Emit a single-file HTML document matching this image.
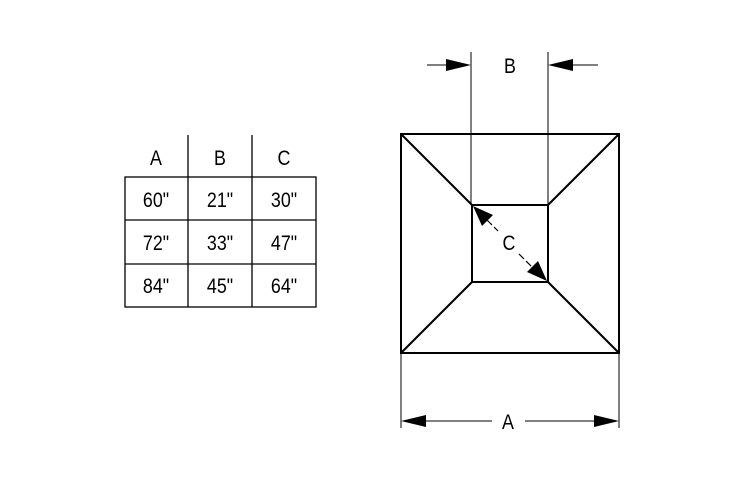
<!DOCTYPE html>
<html><head><style>body{margin:0;background:#fff}</style></head><body>
<svg width="753" height="490" viewBox="0 0 753 490" xmlns="http://www.w3.org/2000/svg" font-family="Liberation Sans, sans-serif" font-size="21" text-anchor="middle">
<g stroke="#000" fill="none">
<rect x="125" y="177" width="191" height="130" stroke-width="1.3"/>
<line x1="125" y1="220" x2="316" y2="220" stroke-width="1.3"/>
<line x1="125" y1="264" x2="316" y2="264" stroke-width="1.3"/>
<line x1="188" y1="135" x2="188" y2="307" stroke-width="1.3"/>
<line x1="252" y1="135" x2="252" y2="307" stroke-width="1.3"/>
<rect x="401" y="134" width="218" height="219" stroke-width="2"/>
<rect x="472" y="205" width="76" height="77" stroke-width="2"/>
<line x1="401" y1="134" x2="472" y2="205" stroke-width="2"/>
<line x1="619" y1="134" x2="548" y2="205" stroke-width="2"/>
<line x1="401" y1="353" x2="472" y2="282" stroke-width="2"/>
<line x1="619" y1="353" x2="548" y2="282" stroke-width="2"/>
<line x1="471" y1="52" x2="471" y2="205" stroke-width="1"/>
<line x1="548" y1="52" x2="548" y2="205" stroke-width="1"/>
<line x1="427" y1="65" x2="450" y2="65" stroke-width="1"/>
<line x1="570" y1="65" x2="598" y2="65" stroke-width="1"/>
<line x1="401" y1="353" x2="401" y2="428" stroke-width="1"/>
<line x1="619" y1="353" x2="619" y2="428" stroke-width="1"/>
<line x1="420" y1="421" x2="492" y2="421" stroke-width="1"/>
<line x1="525" y1="421" x2="600" y2="421" stroke-width="1"/>
<line x1="487" y1="220" x2="498" y2="231" stroke-width="1.2" stroke-dasharray="7,3"/>
<line x1="519" y1="254" x2="532" y2="267" stroke-width="1.2" stroke-dasharray="7,3"/>
</g>
<g fill="#000">
<polygon points="471,65 446,59 446,71"/>
<polygon points="548,65 573,59 573,71"/>
<polygon points="401,421 426,415 426,427"/>
<polygon points="619,421 594,415 594,427"/>
<polygon points="473,206 493,215 482,226"/>
<polygon points="547,281 527,272 538,261"/>
</g>
<g>
<text transform="translate(156,165) scale(0.85,1)">A</text>
<text transform="translate(220,165) scale(0.85,1)">B</text>
<text transform="translate(284,165) scale(0.85,1)">C</text>
<text transform="translate(156,207) scale(0.85,1)">60"</text>
<text transform="translate(220,207) scale(0.85,1)">21"</text>
<text transform="translate(284,207) scale(0.85,1)">30"</text>
<text transform="translate(156,250) scale(0.85,1)">72"</text>
<text transform="translate(220,250) scale(0.85,1)">33"</text>
<text transform="translate(284,250) scale(0.85,1)">47"</text>
<text transform="translate(156,293) scale(0.85,1)">84"</text>
<text transform="translate(220,293) scale(0.85,1)">45"</text>
<text transform="translate(284,293) scale(0.85,1)">64"</text>
<text transform="translate(510,73) scale(0.85,1)">B</text>
<text transform="translate(509,250) scale(0.85,1)">C</text>
<text transform="translate(508,429) scale(0.85,1)">A</text>
</g>
</svg>
</body></html>
